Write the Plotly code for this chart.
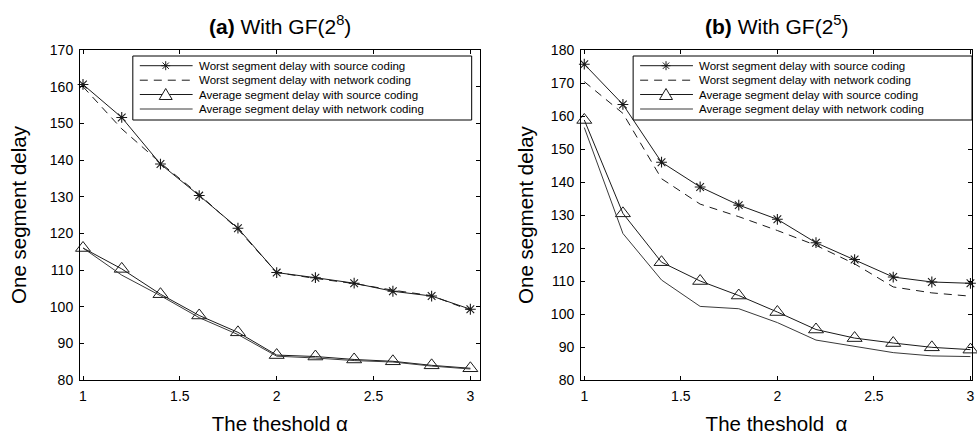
import plotly.graph_objects as go
from plotly.subplots import make_subplots

alpha = [1.0, 1.2, 1.4, 1.6, 1.8, 2.0, 2.2, 2.4, 2.6, 2.8, 3.0]

# (a) GF(2^8)
a_worst_src = [160.6, 151.6, 138.9, 130.3, 121.4, 109.3, 107.9, 106.4, 104.2, 102.9, 99.3]
a_worst_net = [160.0, 148.5, 139.2, 130.6, 121.1, 109.3, 107.7, 106.3, 104.5, 103.0, 99.0]
a_avg_src = [116.0, 110.3, 103.4, 97.6, 93.0, 86.8, 86.4, 85.6, 85.1, 84.0, 83.2]
a_avg_net = [116.0, 108.6, 103.0, 97.0, 92.4, 86.5, 86.0, 85.3, 84.9, 83.8, 83.0]

# (b) GF(2^5)
b_worst_src = [175.7, 163.5, 146.0, 138.5, 133.0, 128.7, 121.6, 116.5, 111.2, 109.7, 109.3]
b_worst_net = [170.4, 160.8, 141.0, 133.3, 129.5, 125.3, 120.8, 115.2, 108.2, 106.4, 105.4]
b_avg_src = [158.8, 130.5, 115.7, 110.0, 105.6, 100.6, 95.3, 92.7, 91.2, 89.9, 89.2]
b_avg_net = [156.5, 124.4, 110.3, 102.3, 101.6, 97.4, 92.1, 90.1, 88.3, 87.3, 87.1]

names = ["Worst segment delay with source coding",
         "Worst segment delay with network coding",
         "Average segment delay with source coding",
         "Average segment delay with network coding"]

x_ticks = [1, 1.5, 2, 2.5, 3]
x_ticklabels = ["1", "1.5", "2", "2.5", "3"]

FONT = "Liberation Sans, Arial, Helvetica, sans-serif"
INK = "#1a1a1a"
GREY = "#3a3a3a"

W, H = 977, 438
ML, MR, MT, MB = 80, 2, 50, 58
PW, PH = W - ML - MR, H - MT - MB


def px(x):
    return (x - ML) / PW


def py(y):
    return (H - MB - y) / PH


fig = make_subplots(rows=1, cols=2, horizontal_spacing=0.1)
fig.update_layout(
    xaxis=dict(domain=[0, px(481)]),
    xaxis2=dict(domain=[px(582.7), 1.0]),
)

styles = [
    dict(line=dict(color=INK, width=1), mode="lines+markers",
         marker=dict(symbol="asterisk-open", size=9, line=dict(color=INK, width=1.1))),
    dict(line=dict(color=INK, width=1, dash="8px,6px"), mode="lines"),
    dict(line=dict(color=INK, width=1), mode="lines+markers",
         marker=dict(symbol="triangle-up-open", size=13, color=INK,
                     line=dict(color=INK, width=1))),
    dict(line=dict(color=GREY, width=1), mode="lines"),
]


def add_panel(col, series):
    for nm, ys, st in zip(names, series, styles):
        fig.add_trace(go.Scatter(x=alpha, y=ys, name=nm, showlegend=False,
                                 cliponaxis=False, **st), row=1, col=col)


add_panel(1, [a_worst_src, a_worst_net, a_avg_src, a_avg_net])
add_panel(2, [b_worst_src, b_worst_net, b_avg_src, b_avg_net])

axis_common = dict(showline=True, linecolor="black", linewidth=1, mirror="ticks",
                   ticks="inside", ticklen=4, tickcolor="black", showgrid=False,
                   zeroline=False, tickfont=dict(family=FONT, size=14, color="black"),
                   ticklabelstandoff=3, ticklabeloverflow="allow")

fig.update_xaxes(**axis_common, tickvals=x_ticks, ticktext=x_ticklabels)
fig.update_yaxes(**axis_common, dtick=10)

tfont = dict(family=FONT, size=20.5, color="black")
fig.update_xaxes(range=[0.9845, 3.048], row=1, col=1,
                 title=dict(text="The theshold α", font=tfont, standoff=13))
fig.update_xaxes(range=[0.983, 3.008], row=1, col=2,
                 title=dict(text="The theshold  α", font=tfont, standoff=13))
fig.update_yaxes(range=[80, 170], tick0=80, row=1, col=1,
                 title=dict(text="One segment delay", font=tfont, standoff=17))
fig.update_yaxes(range=[80, 180], tick0=80, row=1, col=2,
                 title=dict(text="One segment delay", font=tfont, standoff=11))

# ---- legends (drawn as layout decorations) ----
shapes = []
annotations = []
leg_rows = [65.7, 80.2, 94.5, 109.0]
for dx in [0, 502]:
    x0, x1 = 133 + dx, 473 + dx
    if dx:
        x1 = 975
    shapes.append(dict(type="rect", xref="paper", yref="paper",
                       x0=px(x0), x1=px(x1), y0=py(56), y1=py(120),
                       line=dict(color="black", width=1), fillcolor="white", layer="above"))
    lx0, lx1, mx, tx = 140 + dx, 193 + dx, 166 + dx, 198 + dx
    for i, (nm, ry) in enumerate(zip(names, leg_rows)):
        col = GREY if i == 3 else INK
        dash = "8px,6px" if i == 1 else "solid"
        shapes.append(dict(type="line", xref="paper", yref="paper",
                           x0=px(lx0), x1=px(lx1), y0=py(ry), y1=py(ry),
                           line=dict(color=col, width=1, dash=dash), layer="above"))
        if i == 0:
            r = 4.5
            d = r * 0.7071
            for (ax, ay, bx, by) in [(0, -r, 0, r), (-r, 0, r, 0), (-d, -d, d, d), (-d, d, d, -d)]:
                shapes.append(dict(type="line", xref="paper", yref="paper",
                                   x0=px(mx + ax), x1=px(mx + bx), y0=py(ry + ay), y1=py(ry + by),
                                   line=dict(color=INK, width=1), layer="above"))
        if i == 2:
            path = "M {} {} L {} {} L {} {} Z".format(
                px(mx), py(ry - 6), px(mx - 6.5), py(ry + 5), px(mx + 6.5), py(ry + 5))
            shapes.append(dict(type="path", xref="paper", yref="paper", path=path,
                               line=dict(color=INK, width=1), fillcolor="white", layer="above"))
        annotations.append(dict(text=nm, x=px(tx), y=py(ry), xref="paper", yref="paper",
                                xanchor="left", yanchor="middle", showarrow=False,
                                borderpad=0,
                                font=dict(family=FONT, size=11.5, color="black")))

annotations += [
    dict(text="<b>(a)</b> With GF(2<sup>8</sup>)", x=(px(80) + px(481)) / 2, y=py(25),
         xref="paper", yref="paper", xanchor="center", yanchor="middle", showarrow=False,
         font=dict(family=FONT, size=21, color="black")),
    dict(text="<b>(b)</b> With GF(2<sup>5</sup>)", x=(px(582.7) + 1.0) / 2, y=py(25),
         xref="paper", yref="paper", xanchor="center", yanchor="middle", showarrow=False,
         font=dict(family=FONT, size=21, color="black")),
]

fig.update_layout(
    width=W, height=H,
    margin=dict(l=ML, r=MR, t=MT, b=MB),
    paper_bgcolor="white", plot_bgcolor="white",
    font=dict(family=FONT, color="black"),
    showlegend=False,
    shapes=shapes,
    annotations=annotations,
)

fig.write_html("out.html", config={"displayModeBar": False},
               post_script="document.body.style.margin='0';")
